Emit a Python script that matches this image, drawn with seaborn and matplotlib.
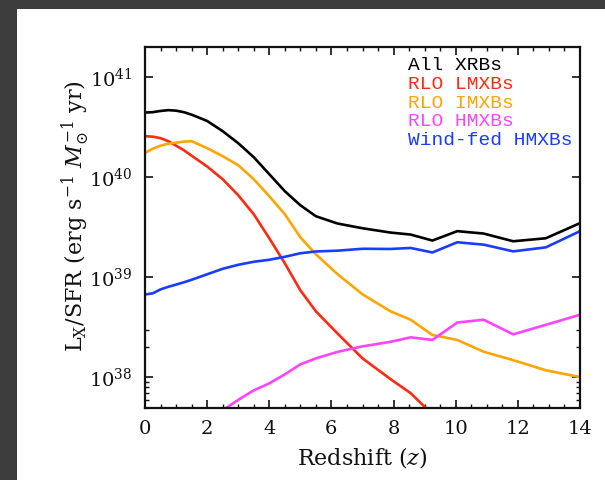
import numpy as np
import pandas as pd
import matplotlib
matplotlib.use("Agg")
import matplotlib.pyplot as plt
from matplotlib.patches import Rectangle
from matplotlib.ticker import MultipleLocator, FixedLocator, NullFormatter
import seaborn as sns

# Redshift grid shared by all populations
redshift = [0.0, 0.25, 0.5, 0.75, 1.0, 1.25, 1.5, 2.0, 2.5, 3.0, 3.5, 4.0, 4.5,
            5.0, 5.5, 6.2, 7.0, 7.9, 8.55, 9.25, 10.05, 10.9, 11.85, 12.9, 14.0]

# log10(L_X/SFR) per population [erg s^-1 (Msun/yr)^-1]
log_all = [40.646, 40.650, 40.662, 40.670, 40.665, 40.650, 40.625, 40.562, 40.46,
           40.34, 40.20, 40.03, 39.86, 39.72, 39.61, 39.537, 39.49, 39.447, 39.427,
           39.367, 39.461, 39.437, 39.360, 39.390, 39.541]
log_lmxb = [40.41, 40.405, 40.39, 40.36, 40.315, 40.27, 40.215, 40.107, 39.98,
            39.82, 39.63, 39.39, 39.14, 38.87, 38.66, 38.437, 38.19, 37.983,
            37.842, 37.63, 37.35, 37.05, 36.75, 36.45, 36.1]
log_imxb = [40.242, 40.285, 40.315, 40.335, 40.345, 40.355, 40.36, 40.29, 40.21,
            40.12, 39.98, 39.81, 39.63, 39.40, 39.23, 39.03, 38.83, 38.66, 38.576,
            38.424, 38.374, 38.256, 38.172, 38.071, 38.003]
log_hmxb_rlo = [37.0, 37.05, 37.1, 37.15, 37.2, 37.26, 37.32, 37.48, 37.67,
                37.775, 37.87, 37.94, 38.03, 38.13, 38.19, 38.255, 38.31, 38.355,
                38.40, 38.374, 38.548, 38.576, 38.43, 38.525, 38.626]
log_hmxb_wind = [38.828, 38.84, 38.879, 38.905, 38.927, 38.95, 38.975, 39.03,
                 39.085, 39.125, 39.155, 39.175, 39.205, 39.24, 39.258, 39.266,
                 39.285, 39.283, 39.293, 39.248, 39.35, 39.326, 39.259, 39.299,
                 39.461]

populations = ["All XRBs", "RLO LMXBs", "RLO IMXBs", "RLO HMXBs", "Wind-fed HMXBs"]
colors = ["#000000", "#ff2a12", "#ffa500", "#ff44ff", "#1a3cff"]

series = [log_all, log_lmxb, log_imxb, log_hmxb_rlo, log_hmxb_wind]
df = pd.concat(
    [pd.DataFrame({"z": redshift, "L": 10.0 ** np.array(vals), "population": name})
     for name, vals in zip(populations, series)],
    ignore_index=True,
)

sns.set_style("ticks")
plt.rcParams["font.family"] = ["DejaVu Serif"]
plt.rcParams["mathtext.fontset"] = "dejavuserif"

fig = plt.figure(figsize=(6.05, 4.8), dpi=100)
fig.patch.set_facecolor("white")
# dark frame along the left and top edges
fig.patches.append(Rectangle((0, 0), 17 / 605, 1, transform=fig.transFigure,
                             facecolor="#3c3c3c", edgecolor="none", zorder=-5))
fig.patches.append(Rectangle((0, 1 - 9 / 480), 1, 9 / 480, transform=fig.transFigure,
                             facecolor="#3c3c3c", edgecolor="none", zorder=-5))

ax = fig.add_axes([145 / 605, (480 - 407.5) / 480, 435 / 605, 360.5 / 480])
ax.set_facecolor("white")

sns.lineplot(data=df, x="z", y="L", hue="population", hue_order=populations,
             palette=dict(zip(populations, colors)), estimator=None,
             linewidth=1.9, legend=False, ax=ax)

ax.set_yscale("log")
ax.set_xlim(0, 14)
ax.set_ylim(5e37, 2e41)

ax.xaxis.set_major_locator(MultipleLocator(2))
ax.xaxis.set_minor_locator(MultipleLocator(0.5))
ax.yaxis.set_major_locator(FixedLocator([1e38, 1e39, 1e40, 1e41]))
ax.yaxis.set_minor_locator(FixedLocator([6e37, 7e37, 8e37, 9e37, 2e38, 3e38]))
ax.yaxis.set_minor_formatter(NullFormatter())

for s in ax.spines.values():
    s.set_visible(True)
    s.set_linewidth(1.6)
    s.set_color("#111111")

ax.tick_params(which="both", direction="in", top=True, right=True,
               color="#111111", labelsize=14, labelcolor="#111111")
ax.tick_params(which="major", length=6, width=1.2, pad=9)
ax.tick_params(which="minor", length=3.2, width=1.0)

ax.set_xlabel(r"Redshift ($z$)", fontsize=16, color="#111111")
ax.set_ylabel(r"L$_{\rm X}$/SFR (erg s$^{-1}$ $M_{\odot}^{-1}$ yr)",
              fontsize=16, color="#111111")
ax.xaxis.set_label_coords(0.5, -0.14)
ax.xaxis.label.set_va("center")
ax.yaxis.set_label_coords(-0.16, 0.53)
ax.yaxis.label.set_va("center")

# Coloured-text key in the upper right
key_y = [0.950, 0.897, 0.844, 0.794, 0.742]
for name, c, yk in zip(populations, colors, key_y):
    ax.text(0.605, yk, name, transform=ax.transAxes, color=c, fontsize=14,
            family=["Liberation Mono", "DejaVu Sans Mono"], ha="left", va="center")

fig.savefig("out.png", dpi=100, facecolor=fig.get_facecolor())
